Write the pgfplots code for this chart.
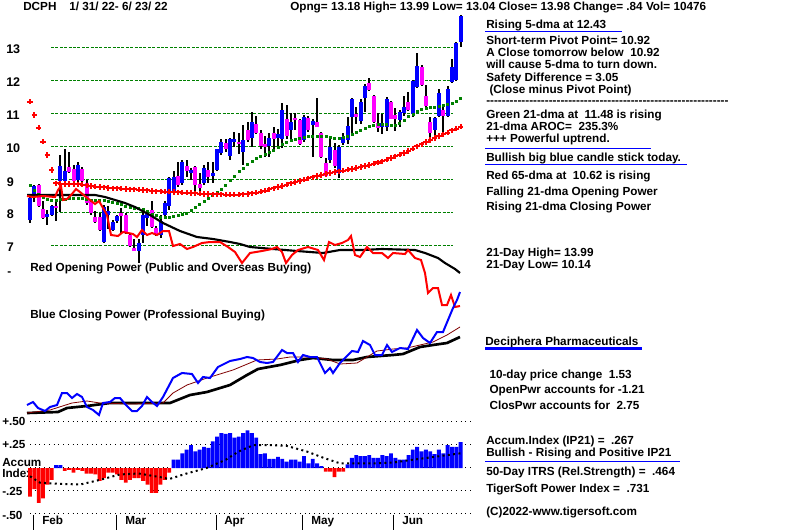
\documentclass[border=0pt]{standalone}
\usepackage{fontspec}
\setmainfont{Liberation Sans}
\usepackage{pgfplots}
\pgfplotsset{compat=1.18}
\usepackage{pgfplotstable}

\definecolor{tsblue}{RGB}{0,0,255}
\definecolor{tsmag}{RGB}{255,0,255}
\definecolor{tsred}{RGB}{255,0,0}
\definecolor{tsgreen}{RGB}{0,128,0}
\definecolor{tsbrown}{RGB}{128,0,0}

\newcommand\tf{\fontsize{8.8}{10}\selectfont\bfseries}
\newcommand\bigtf{\fontsize{9.4}{11}\selectfont\bfseries}
\newcommand\tx[3]{\node[anchor=base west,inner sep=0pt,font=\tf] at (#1,#2) {#3};}

% daily candles: index, open, high, low, close
\pgfplotstableread{
i o h l c
0 7.79 8.50 7.71 8.46
1 8.55 8.85 8.34 8.82
2 8.85 8.88 8.18 8.21
3 8.12 8.36 7.81 7.84
4 7.89 8.10 7.64 7.97
5 7.94 8.25 7.92 8.21
6 8.20 8.34 7.77 8.16
7 8.98 9.76 8.04 9.42
8 8.98 9.93 8.95 9.27
9 9.38 9.86 9.20 9.24
10 9.33 9.45 8.95 8.98
11 9.00 9.55 8.95 9.45
12 9.33 9.40 8.85 8.98
13 8.90 9.00 8.25 8.29
14 8.35 8.40 7.95 7.99
15 7.87 8.05 7.70 7.74
16 7.89 8.00 7.45 7.48
17 7.13 8.24 7.10 8.19
18 7.95 8.22 7.50 8.05
19 7.48 7.78 7.46 7.74
20 7.75 7.95 7.70 7.92
21 8.00 8.15 7.40 7.92
22 7.94 8.00 7.35 7.38
23 7.33 7.40 6.98 7.00
24 6.95 7.20 6.85 6.86
25 6.86 7.20 6.47 7.10
26 7.33 8.10 7.10 7.94
27 7.85 8.00 7.60 7.98
28 8.09 8.35 7.55 7.59
29 7.55 7.60 7.30 7.36
30 7.33 7.95 7.25 7.76
31 7.94 8.35 7.90 8.30
32 8.20 9.10 8.10 9.05
33 8.65 9.28 8.60 9.10
34 9.12 9.55 8.80 8.85
35 8.90 9.60 8.85 9.56
36 9.43 9.60 9.10 9.28
37 9.22 9.35 9.00 9.30
38 9.40 9.42 8.65 8.85
39 8.88 9.20 8.50 8.77
40 8.92 9.45 8.85 9.37
41 9.30 9.55 8.90 9.08
42 9.12 9.55 8.90 9.22
43 9.30 9.93 9.28 9.93
44 9.81 10.25 9.75 10.16
45 10.11 10.25 9.85 9.93
46 9.73 10.26 9.60 10.23
47 10.16 10.45 10.00 10.23
48 10.16 10.43 9.80 10.09
49 9.86 10.67 9.45 10.21
50 10.52 10.77 10.15 10.21
51 10.26 11.07 10.01 10.77
52 10.69 10.95 10.40 10.43
53 10.43 10.50 9.95 10.03
54 10.09 10.33 9.70 10.01
55 10.03 10.42 9.70 10.26
56 10.43 10.61 9.95 10.24
57 10.27 10.56 10.00 10.40
58 10.24 11.32 9.96 11.12
59 10.84 11.27 10.25 10.33
60 10.52 11.02 10.25 10.77
61 10.87 11.02 10.50 10.82
62 10.82 10.85 10.05 10.09
63 10.21 10.97 10.15 10.92
64 10.87 10.95 10.45 10.52
65 10.67 10.85 9.70 10.80
66 10.77 11.48 10.60 10.62
67 10.41 10.46 9.68 9.70
68 9.50 9.68 9.10 9.12
69 9.61 10.26 9.50 9.99
70 9.91 10.11 9.35 9.41
71 9.20 10.06 9.05 9.99
72 10.11 10.41 10.05 10.29
73 10.21 10.90 10.10 10.64
74 10.92 11.48 10.40 11.45
75 11.00 11.22 10.70 10.90
76 10.80 11.44 10.70 11.37
77 11.47 11.90 11.05 11.85
78 11.93 12.08 11.70 11.72
79 11.55 11.57 10.74 10.76
80 10.72 11.02 10.44 10.57
81 10.62 11.00 10.40 10.72
82 10.62 11.51 10.48 11.45
83 11.35 11.40 10.84 10.86
84 10.97 11.19 10.47 10.84
85 10.82 11.12 10.60 11.07
86 11.02 11.55 10.95 11.22
87 11.37 11.68 11.10 11.12
88 11.00 12.02 10.92 11.99
89 11.83 12.86 11.80 12.45
90 12.41 12.48 11.85 11.88
91 11.55 11.87 11.20 11.24
92 10.76 10.92 10.14 10.41
93 10.50 10.90 10.19 10.87
94 10.94 11.75 10.90 11.65
95 11.12 11.27 10.41 10.94
96 10.94 11.85 10.90 11.76
97 11.98 12.68 11.95 12.43
98 12.03 13.17 12.00 13.14
99 13.18 13.99 13.04 13.98
}\candles

% 21-dma (green) and 65-dma (red)
\pgfplotstableread{
i g r
0 8.83 11.37
1 8.70 10.97
2 8.58 10.59
3 8.48 10.16
4 8.42 9.76
5 8.40 9.30
6 8.40 8.90
7 8.41 8.88
8 8.43 8.88
9 8.44 8.88
10 8.45 8.88
11 8.46 8.87
12 8.44 8.86
13 8.41 8.84
14 8.38 8.82
15 8.38 8.80
16 8.39 8.79
17 8.38 8.78
18 8.36 8.76
19 8.33 8.75
20 8.30 8.75
21 8.25 8.74
22 8.20 8.73
23 8.16 8.72
24 8.15 8.72
25 8.14 8.71
26 8.12 8.70
27 8.05 8.69
28 7.97 8.67
29 7.92 8.66
30 7.88 8.66
31 7.87 8.65
32 7.87 8.65
33 7.90 8.64
34 7.93 8.63
35 7.96 8.62
36 8.00 8.62
37 8.08 8.61
38 8.18 8.60
39 8.27 8.59
40 8.35 8.58
41 8.44 8.58
42 8.53 8.57
43 8.62 8.57
44 8.72 8.57
45 8.85 8.56
46 8.98 8.56
47 9.12 8.56
48 9.25 8.56
49 9.37 8.57
50 9.48 8.58
51 9.58 8.60
52 9.66 8.62
53 9.72 8.65
54 9.78 8.68
55 9.84 8.72
56 9.90 8.75
57 9.98 8.79
58 10.07 8.82
59 10.14 8.86
60 10.19 8.90
61 10.23 8.94
62 10.27 8.97
63 10.30 9.01
64 10.32 9.05
65 10.33 9.08
66 10.34 9.12
67 10.34 9.15
68 10.33 9.18
69 10.30 9.21
70 10.27 9.24
71 10.25 9.26
72 10.29 9.28
73 10.34 9.31
74 10.39 9.33
75 10.44 9.36
76 10.50 9.39
77 10.56 9.42
78 10.62 9.45
79 10.67 9.49
80 10.70 9.53
81 10.69 9.57
82 10.68 9.62
83 10.67 9.67
84 10.67 9.72
85 10.72 9.77
86 10.80 9.82
87 10.92 9.88
88 11.00 9.95
89 11.07 10.02
90 11.14 10.08
91 11.18 10.15
92 11.19 10.21
93 11.20 10.27
94 11.22 10.33
95 11.26 10.38
96 11.29 10.43
97 11.34 10.50
98 11.40 10.56
99 11.47 10.62
}\mas

% accumulation index (IP21)
\pgfplotstableread{
i v
0 -0.31
1 -0.23
2 -0.38
3 -0.33
4 -0.18
5 -0.13
6 0.03
7 0.03
8 -0.03
9 -0.02
10 -0.05
11 -0.02
12 -0.03
13 -0.06
14 -0.06
15 -0.07
16 -0.14
17 -0.11
18 -0.05
19 -0.05
20 -0.07
21 -0.13
22 -0.16
23 -0.13
24 -0.11
25 -0.11
26 -0.14
27 -0.18
28 -0.27
29 -0.27
30 -0.18
31 -0.13
32 -0.05
33 0.09
34 0.09
35 0.16
36 0.20
37 0.25
38 0.18
39 0.20
40 0.23
41 0.22
42 0.29
43 0.34
44 0.38
45 0.37
46 0.38
47 0.33
48 0.34
49 0.38
50 0.41
51 0.38
52 0.33
53 0.15
54 0.16
55 0.10
56 0.10
57 0.12
58 0.10
59 0.07
60 0.09
61 0.09
62 0.07
63 0.13
64 0.05
65 0.10
66 0.05
67 0.02
68 -0.04
69 -0.04
70 -0.10
71 -0.04
72 -0.04
73 0.04
74 0.11
75 0.14
76 0.13
77 0.13
78 0.14
79 0.11
80 0.11
81 0.14
82 0.13
83 0.16
84 0.11
85 0.09
86 0.09
87 0.14
88 0.20
89 0.23
90 0.18
91 0.20
92 0.18
93 0.15
94 0.20
95 0.16
96 0.25
97 0.23
98 0.23
99 0.28
}\accum

\pgfplotsset{panel/.style={scale only axis, width=600pt, height=397.5pt,
  at={(0,0)}, anchor=south west, hide axis, clip=false}}

\begin{document}
\begin{tikzpicture}
\fill[white] (0,0) rectangle (600pt,397.5pt);

\begin{scope}[x=0.75pt,y=-0.75pt,yshift=397.5pt]
% price grid
\foreach \yy in {48,81,114,147,180,213,246}
  \draw[tsgreen,line width=0.75pt,dash pattern=on 2.2pt off 1.1pt] (51,\yy) -- (453,\yy);
% accum grid
\foreach \yy in {422,445,468,491,514}
  \draw[black,line width=0.75pt,dash pattern=on 0.75pt off 2.8pt] (30,\yy) -- (472,\yy);
% month ticks
\foreach \xx in {33,116,216,302,393}
  \draw[black,line width=0.75pt] (\xx,515) -- (\xx,530);
% price tick labels
\foreach \yy/\lab in {54/13,87/12,120/11,153/10}
  \node[anchor=base west,inner sep=0pt,font=\bigtf] at (6,\yy) {\lab};
\foreach \yy/\lab in {187/9,219/8,252/7}
  \node[anchor=base west,inner sep=0pt,font=\bigtf] at (6.5,\yy) {\lab};
\tx{7}{276}{-}
\tx{2}{426}{+.50}
\tx{2}{449}{+.25}
\tx{2}{467}{Accum}
\tx{2}{478}{Index}
\tx{2}{496}{-.25}
\tx{2}{519}{-.50}
\tx{42}{524}{Feb}
\tx{125}{524}{Mar}
\tx{224}{524}{Apr}
\tx{311}{524}{May}
\tx{402}{524}{Jun}
\tx{30}{272}{Red Opening Power (Public and Overseas Buying)}
\tx{30}{319}{Blue Closing Power (Professional Buying)}
\end{scope}

% ---- price panel ----
\begin{axis}[panel, xmin=-6.8966, xmax=177.0115, ymin=-1.6061, ymax=14.4545,
  unbounded coords=discard]
\addplot[draw=none, mark=none, forget plot,
  error bars/.cd, y dir=both, y explicit, error mark=none,
  error bar style={draw=black, line width=1.5pt}]
  table[x=i, y expr={(\thisrow{h}+\thisrow{l})/2},
        y error expr={(\thisrow{h}-\thisrow{l})/2}] {\candles};
\addplot[draw=none, mark=none, forget plot,
  error bars/.cd, y dir=both, y explicit, error mark=none,
  error bar style={draw=tsblue, line width=3pt}]
  table[x=i, y expr={\thisrow{c}>\thisrow{o} ? (\thisrow{o}+\thisrow{c})/2 : nan},
        y error expr={abs(\thisrow{c}-\thisrow{o})/2}] {\candles};
\addplot[draw=none, mark=none, forget plot,
  error bars/.cd, y dir=both, y explicit, error mark=none,
  error bar style={draw=tsmag, line width=3pt}]
  table[x=i, y expr={\thisrow{c}<\thisrow{o} ? (\thisrow{o}+\thisrow{c})/2 : nan},
        y error expr={abs(\thisrow{c}-\thisrow{o})/2}] {\candles};
\addplot[only marks, mark=square*, mark size=0.75pt, tsgreen] table[x=i,y=g] {\mas};
\addplot[only marks, mark=+, mark size=2pt, tsred, mark options={line width=1.5pt}] table[x=i,y=r] {\mas};
\end{axis}

% ---- opening / closing power (pixel units) ----
\begin{axis}[panel, xmin=0, xmax=800, ymin=0, ymax=530, y dir=reverse]
% 21-dma of opening power
\addplot[black, line width=1.6pt, mark=none] coordinates {
(27,195) (95,195) (105,197) (115,200) (125,203) (135,207) (150,215) (163,223)
(180,231) (197,237) (213,239) (230,242) (240,244) (250,247) (273,249) (297,251)
(323,253) (340,250) (363,250) (382,249) (415,250) (425,253) (438,258) (445,263)
(455,269) (460,273)};
% opening power
\addplot[tsred, line width=1.5pt, mark=none] coordinates {
(27,196) (33,197) (43,196) (55,197) (58,190) (61,186) (63,200) (67,199) (72,194)
(76,189) (80,192) (86,197) (90,200) (95,204) (99,201) (103,208) (107,215) (111,235)
(118,236) (123,232) (128,233) (133,234) (137,237) (142,230) (147,235) (152,233)
(157,235) (163,231) (169,231) (173,246) (180,244) (187,249) (193,247) (202,243)
(210,242) (220,242) (228,247) (235,252) (242,263) (250,253) (262,251) (272,249)
(277,247) (282,252) (286,263) (292,255) (298,250) (308,247) (318,250) (324,260)
(329,242) (335,245) (342,243) (348,240) (351,236) (355,255) (360,257) (367,247)
(373,253) (382,253) (388,258) (393,253) (405,254) (408,250) (415,258) (421,260)
(425,273) (428,293) (433,288) (438,288) (442,305) (447,305) (451,295) (455,307)
(460,306)};
% closing power long average (thick black)
\addplot[black, line width=2pt, mark=none] coordinates {
(27,413) (58,412) (67,408) (87,406) (110,403) (170,403) (190,395) (207,392)
(230,385) (247,375) (258,369) (280,365) (300,360) (313,358) (333,360) (353,360)
(367,357) (393,355) (403,354) (420,347) (433,345) (447,343) (460,337)};
% closing power 21-dma (thin brown)
\addplot[tsbrown, line width=0.6pt, mark=none] coordinates {
(27,413) (50,410) (72,403) (87,401) (100,403) (133,404) (163,403) (173,393)
(187,385) (207,378) (233,370) (257,360) (277,359) (290,357) (310,357) (327,359)
(340,364) (357,363) (367,357) (377,351) (393,349) (407,348) (420,345) (433,342)
(447,335) (460,327)};
% closing power
\addplot[tsblue, line width=1.5pt, mark=none] coordinates {
(27,405) (33,402) (38,408) (45,411) (50,407) (57,405) (62,393) (67,393) (72,398)
(77,394) (82,397) (87,407) (93,410) (99,415) (103,403) (110,402) (115,398)
(120,398) (125,404) (132,411) (137,411) (142,406) (147,397) (152,402) (157,406)
(163,397) (173,378) (182,373) (192,374) (198,383) (203,377) (210,378) (218,367)
(230,361) (240,359) (247,357) (253,358) (260,362) (267,363) (273,362) (282,350)
(287,353) (293,353) (298,362) (303,355) (310,357) (317,357) (325,373) (330,368)
(333,373) (340,363) (352,351) (358,352) (363,341) (370,345) (375,355) (382,355)
(387,345) (392,352) (400,348) (408,349) (417,330) (423,338) (430,343) (437,332)
(443,332) (448,320) (453,308) (457,300) (460,292)};
\end{axis}

% ---- accumulation index ----
\begin{axis}[panel, xmin=-6.8966, xmax=177.0115, ymin=-0.6739, ymax=5.0870,
  unbounded coords=discard]
\addplot[ybar, bar width=2.9pt, bar shift=0pt, fill=tsblue, draw=none,
  y filter/.expression={y>0 ? y : nan}] table[x=i,y=v] {\accum};
\addplot[ybar, bar width=2.9pt, bar shift=0pt, fill=tsred, draw=none,
  y filter/.expression={y<0 ? y : nan}] table[x=i,y=v] {\accum};
\addplot[black, line width=1.5pt, dash pattern=on 1.5pt off 2.5pt, mark=none] coordinates {
(0,-0.09) (2.3,-0.16) (6,-0.17) (11.5,-0.18) (16,-0.13) (20.7,-0.07) (25,-0.06)
(30,-0.10) (32,-0.12) (36,-0.06) (40.6,0) (45,0.09) (48,0.18) (51.4,0.25)
(54.4,0.25) (59,0.24) (63.6,0.18) (67.5,0.11) (71.3,0.05) (74.4,0.05) (79,0.05)
(83.6,0.06) (88,0.09) (92.8,0.12) (99,0.16)};
\end{axis}

% ---- texts ----
\begin{scope}[x=0.75pt,y=-0.75pt,yshift=397.5pt]
\tx{23}{11}{DCPH}
\tx{69}{11}{1/ 31/ 22- 6/ 23/ 22}
\tx{290}{11}{Opng= 13.18 High= 13.99 Low= 13.04 Close= 13.98 Change= .84 Vol= 10476}
\tx{486}{28.5}{Rising 5-dma at 12.43}
\draw[tsblue,line width=0.75pt] (485,32) -- (622,32);
\tx{486}{45}{Short-term Pivot Point= 10.92}
\tx{486}{57}{A Close tomorrow below\ \ 10.92}
\tx{486}{69}{will cause 5-dma to turn down.}
\tx{486}{82}{Safety Difference = 3.05}
\tx{486}{94}{\ (Close minus Pivot Point)}
\tx{486}{104.5}{-{}-{}-{}-{}-{}-{}-{}-{}-{}-{}-{}-{}-{}-{}-{}-{}-{}-{}-{}-{}-{}-{}-{}-{}-{}-{}-{}-{}-{}-{}-{}-{}-{}-{}-{}-{}-{}-{}-{}-{}-{}-{}-{}-{}-{}-{}-{}-{}-{}-{}-{}-{}-{}-{}-{}-{}-{}-{}-{}-{}-{}-{}}
\tx{486}{119}{Green 21-dma at\ \ 11.48 is rising}
\tx{486}{131}{21-dma AROC=\ \ 235.3\%}
\tx{486}{143}{+++ Powerful uptrend.}
\draw[tsblue,line width=0.75pt] (485,149) -- (651,149);
\tx{486}{161.5}{Bullish big blue candle stick today.}
\draw[tsblue,line width=0.75pt] (485,165) -- (687,165);
\tx{486}{179.5}{Red 65-dma at\ \ 10.62 is rising}
\tx{486}{196}{Falling 21-dma Opening Power}
\tx{486}{210.5}{Rising 21-dma Closing Power}
\tx{486}{256.5}{21-Day High= 13.99}
\tx{486}{269}{21-Day Low= 10.14}
\tx{485}{345.5}{Deciphera Pharmaceuticals}
\draw[tsblue,line width=1.9pt] (485,348.7) -- (642,348.7);
\tx{486}{379}{\ 10-day price change\ \ 1.53}
\tx{486}{394}{\ OpenPwr accounts for -1.21}
\tx{486}{410}{\ ClosPwr accounts for\ \ 2.75}
\tx{486}{445}{Accum.Index (IP21) =\ \ .267}
\tx{486}{456.5}{Bullish - Rising and Positive IP21}
\draw[tsblue,line width=0.9pt] (485,461.7) -- (680,461.7);
\tx{486}{475.5}{50-Day ITRS (Rel.Strength) =\ \ .464}
\tx{486}{493}{TigerSoft Power Index =\ \ .731}
\tx{486}{515.5}{(C)2022-www.tigersoft.com}
\end{scope}
\end{tikzpicture}
\end{document}
